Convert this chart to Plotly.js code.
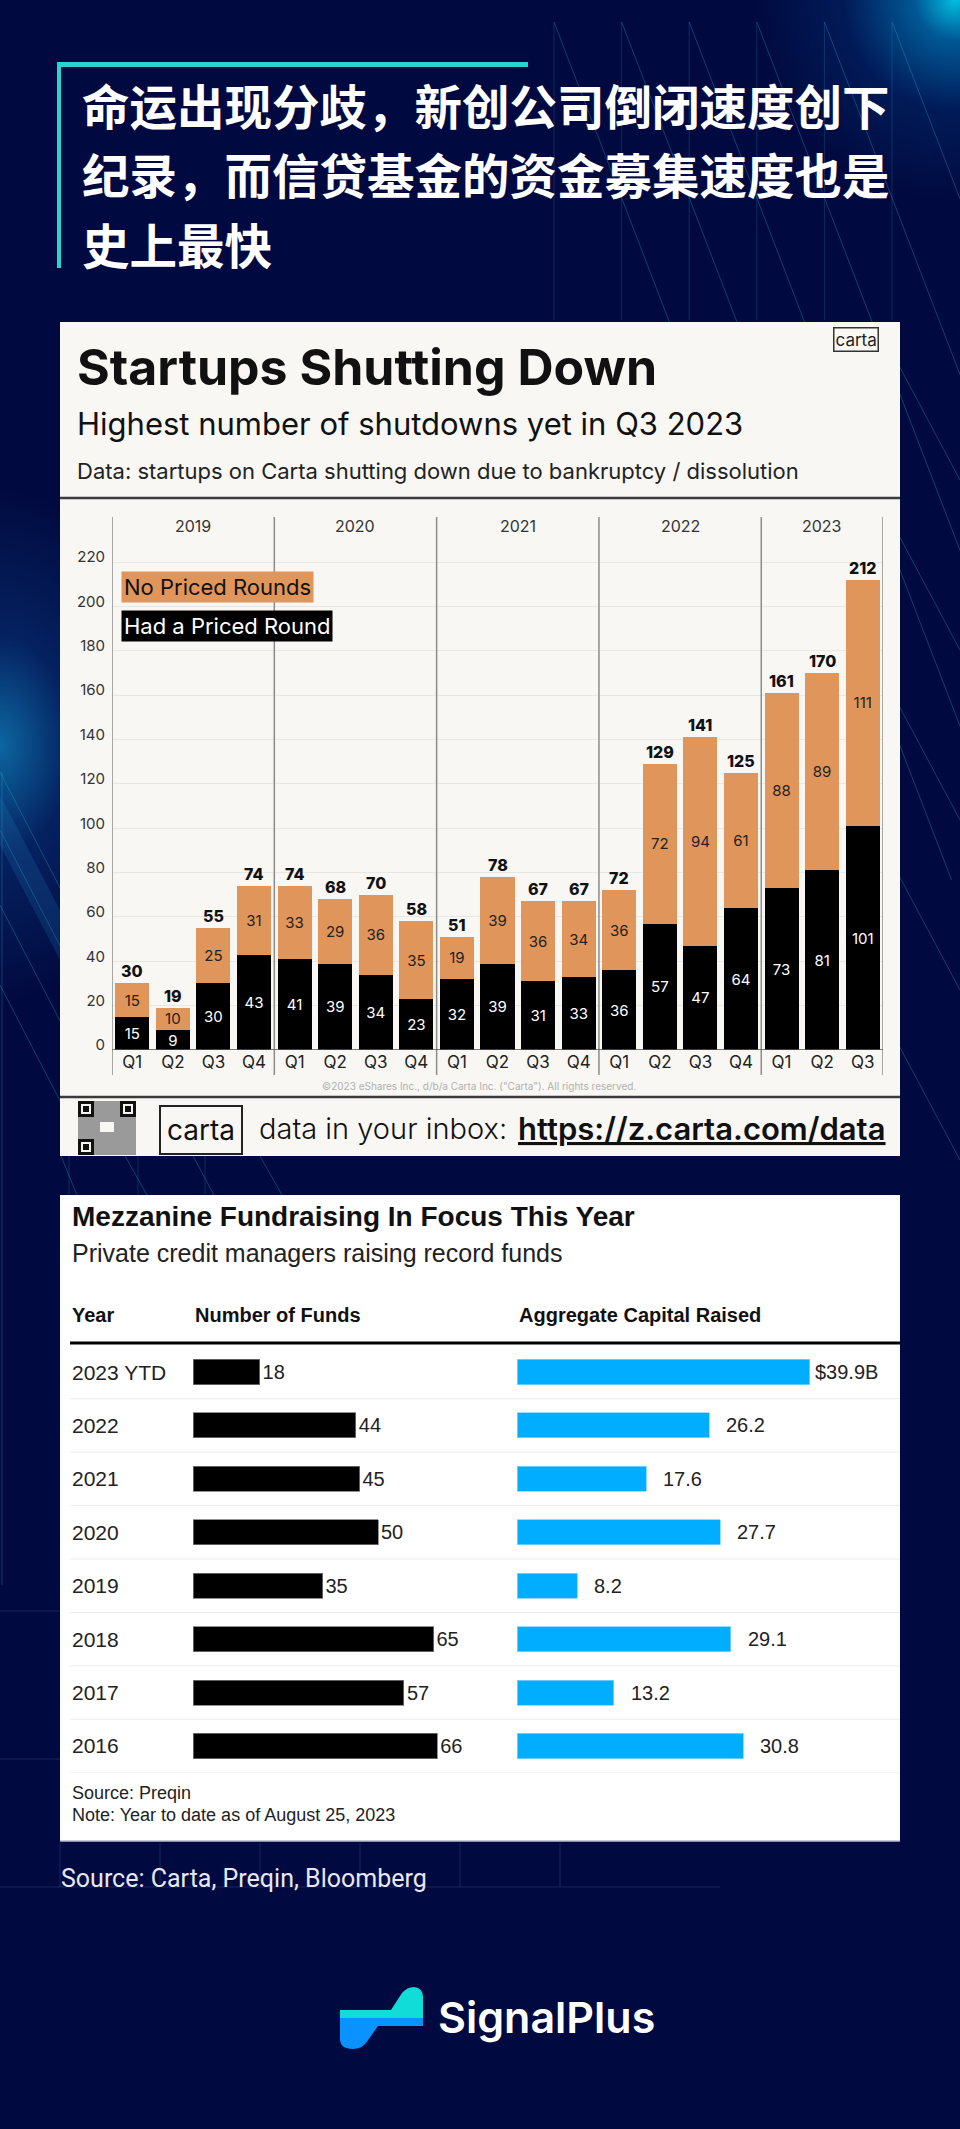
<!DOCTYPE html>
<html>
<head>
<meta charset="utf-8">
<script src="https://cdn.plot.ly/plotly-3.0.1.min.js"></script>
<style>
html,body{margin:0;padding:0;}
body{width:960px;height:2129px;overflow:hidden;
background:
 radial-gradient(circle at 955px 0px, rgba(0,200,235,0.95) 0px, rgba(0,140,205,0.6) 40px, rgba(0,70,150,0.28) 110px, rgba(1,10,64,0) 200px),
 radial-gradient(ellipse 110px 170px at 0px 745px, rgba(15,125,185,0.8) 0px, rgba(10,70,145,0.4) 70px, rgba(1,10,64,0) 165px),
 #010a40;}
#chart{width:960px;height:2129px;}
</style>
</head>
<body>
<div id="chart"></div>
<script>
// ---------------- DATA ----------------
const periods = ['2019 Q1','2019 Q2','2019 Q3','2019 Q4','2020 Q1','2020 Q2','2020 Q3','2020 Q4',
                 '2021 Q1','2021 Q2','2021 Q3','2021 Q4','2022 Q1','2022 Q2','2022 Q3','2022 Q4',
                 '2023 Q1','2023 Q2','2023 Q3'];
const hadPricedRound = [15,9,30,43,41,39,34,23,32,39,31,33,36,57,47,64,73,81,101];
const noPricedRounds = [15,10,25,31,33,29,36,35,19,39,36,34,36,72,94,61,88,89,111];
const totals = [30,19,55,74,74,68,70,58,51,78,67,67,72,129,141,125,161,170,212];
const years = ['2019','2020','2021','2022','2023'];
const yTicks = [0,20,40,60,80,100,120,140,160,180,200,220];

const fundYears = ['2023 YTD','2022','2021','2020','2019','2018','2017','2016'];
const numberOfFunds = [18,44,45,50,35,65,57,66];
const capitalRaised = [39.9,26.2,17.6,27.7,8.2,29.1,13.2,30.8];
const capitalLabels = ['$39.9B','26.2','17.6','27.7','8.2','29.1','13.2','30.8'];

// ---------------- HELPERS ----------------
const W = 960, H = 2129;
const px = x => x / W;
const py = y => 1 - y / H;
const quarterLabels = periods.map(p => p.split(' ')[1]);
const CARTA = 'Inter, Lato, sans-serif';
const BBG = '"Liberation Sans", Arial, sans-serif';
const CJK = '"Noto Sans CJK SC", sans-serif';

function txt(text, x, y, font, opts) {
  return Object.assign({text: text, xref:'paper', yref:'paper', x: px(x), y: py(y),
    showarrow:false, xanchor:'left', yanchor:'middle', font: font}, opts || {});
}
function rect(x0,y0,x1,y1,fill,opts){
  return Object.assign({type:'rect', xref:'paper', yref:'paper', x0:px(x0), x1:px(x1), y0:py(y0), y1:py(y1),
    fillcolor: fill, line:{width:0}, layer:'below'}, opts||{});
}
function line(x0,y0,x1,y1,color,width,opts){
  return Object.assign({type:'line', xref:'paper', yref:'paper', x0:px(x0), x1:px(x1), y0:py(y0), y1:py(y1),
    line:{color:color, width:width}, layer:'below'}, opts||{});
}
function pathPx(cmds){
  return cmds.map(c => c[0] + (c.length>1 ? ' ' + c.slice(1).map((v,i)=> i%2===0 ? px(v).toFixed(5) : py(v).toFixed(5)).join(' ') : '')).join(' ');
}

// ---------------- TRACES ----------------
const traces = [
  {type:'bar', name:'Had a Priced Round', x: periods, y: hadPricedRound, xaxis:'x', yaxis:'y',
   marker:{color:'#000000'}, text: hadPricedRound.map(String), textposition:'inside', insidetextanchor:'middle',
   constraintext:'none', textangle:0, insidetextfont:{family:CARTA, size:15, color:'#ffffff'}, hoverinfo:'skip'},
  {type:'bar', name:'No Priced Rounds', x: periods, y: noPricedRounds, xaxis:'x', yaxis:'y',
   marker:{color:'#e0955a'}, text: noPricedRounds.map(String), textposition:'inside', insidetextanchor:'middle',
   constraintext:'none', textangle:0, insidetextfont:{family:CARTA, size:15, color:'#222222'}, hoverinfo:'skip'},
  {type:'bar', orientation:'h', name:'Number of Funds', y: fundYears, x: numberOfFunds, xaxis:'x2', yaxis:'y2',
   width:0.47, marker:{color:'#000000', line:{color:'#777', width:0.8}}, text: numberOfFunds.map(String), textposition:'outside',
   constraintext:'none', cliponaxis:false, textfont:{family:BBG, size:20, color:'#222'}, hoverinfo:'skip'},
  {type:'bar', orientation:'h', name:'Aggregate Capital Raised', y: fundYears, x: capitalRaised, xaxis:'x3', yaxis:'y3',
   width:0.47, marker:{color:'#00adfe', line:{color:'#7fd3ff', width:0.8}}, hoverinfo:'skip'}
];

// ---------------- SHAPES ----------------
const shapes = [];
const deco = 'rgba(40,175,205,0.33)';
for (let k=0;k<6;k++){
  const x0 = 554 + 67.6*k;
  shapes.push(line(x0,22,x0,320,'rgba(40,175,205,0.22)',1));
  const x1 = Math.min(x0+330, 1100);
  shapes.push(line(x0,22,x1,22+(x1-x0)*2.6,deco,1));
}
for (let k=0;k<5;k++){
  const y0 = 330 + 170*k;
  shapes.push(line(880,y0,960,y0+150,deco,1));
}
shapes.push(line(2,772,2,1585,'rgba(40,175,205,0.3)',1));
[772,830,905,985].forEach(y0 => shapes.push(line(0,y0,70,y0+135,deco,1)));
shapes.push({type:'path', xref:'paper', yref:'paper', layer:'below', line:{width:0}, fillcolor:'rgba(40,140,200,0.18)',
  path: pathPx([['M',0,795],['L',60,910],['L',60,960],['L',0,845],['Z']])});
[[61,1156,77,1195],[125,1156,147,1195],[193,1156,214,1195],[260,1156,282,1195]].forEach(a=>shapes.push(line(a[0],a[1],a[2],a[3],deco,1)));
[69,138,205].forEach(x=>shapes.push(line(x,1156,x,1195,'rgba(40,175,205,0.22)',1)));
[60,160,260,360,460,560].forEach(x=>shapes.push(line(x,1843,x,1887,'rgba(70,90,150,0.35)',1)));
shapes.push(line(0,1887,720,1887,'rgba(70,90,150,0.35)',1));
shapes.push(line(0,1611,60,1611,'rgba(70,90,150,0.35)',1));
shapes.push(line(0,1759,60,1759,'rgba(70,90,150,0.35)',1));

// header accent
shapes.push(rect(57,62,528,67,'#2ad3d0',{layer:'above'}));
shapes.push(rect(57,62,61,268,'#2ad3d0',{layer:'above'}));

// panels
shapes.push(rect(60,322,900,1156,'#f8f7f3'));
shapes.push(rect(60,1195,900,1841,'#ffffff'));
shapes.push(line(60,1841,900,1841,'#b9bccb',1.5));
shapes.push(line(60,498,900,498,'#3a3a3a',2.5));
shapes.push(line(60,1097,900,1097,'#3a3a3a',2.5));

// Carta year dividers
const counts = years.map(yr => periods.filter(p => p.startsWith(yr)).length);
let cum = -0.5;
const bounds = [cum];
counts.forEach(c => { cum += c; bounds.push(cum); });
bounds.forEach(b => shapes.push({type:'line', xref:'x', yref:'paper', x0:b, x1:b, y0:py(1075), y1:py(517),
  line:{color:'#8c8c8c', width:1.5}, layer:'above'}));
shapes.push({type:'line', xref:'paper', yref:'y', x0:px(112), x1:px(883), y0:0, y1:0, line:{color:'#555', width:1.5}, layer:'above'});

// QR code stand-in
shapes.push(rect(78,1101,136,1155,'#9a9a9a'));
[[78,1101],[120,1101],[78,1139]].forEach(p=>{
  shapes.push(rect(p[0],p[1],p[0]+16,p[1]+16,'#111'));
  shapes.push(rect(p[0]+3,p[1]+3,p[0]+13,p[1]+13,'#f8f7f3'));
  shapes.push(rect(p[0]+5,p[1]+5,p[0]+11,p[1]+11,'#111'));
});
shapes.push(rect(100,1122,114,1132,'#f8f7f3'));

// Bloomberg table lines
shapes.push(line(70,1343,900,1343,'#000',3));
fundYears.forEach((f,i)=> shapes.push({type:'line', xref:'paper', yref:'y2', x0:px(70), x1:px(900), y0:i+0.5, y1:i+0.5,
  line:{color:'#ececec', width:1}, layer:'below'}));

// SignalPlus logo
shapes.push({type:'path', xref:'paper', yref:'paper', layer:'above', line:{width:0}, fillcolor:'#12dcd8',
  path: pathPx([['M',340,2010],['L',391,2010],['L',402,1993],['Q',407,1987,414,1987],['Q',423,1988,423,1997],['L',423,2018],['L',340,2018],['Z']])});
shapes.push({type:'path', xref:'paper', yref:'paper', layer:'above', line:{width:0}, fillcolor:'#0a92ff',
  path: pathPx([['M',340,2018],['L',423,2018],['L',423,2026],['L',378,2026],['L',366,2043],['Q',361,2049,353,2049],['Q',340,2049,340,2039],['Z']])});

// ---------------- ANNOTATIONS ----------------
const annotations = [];
const cjkFont = {family:CJK, size:47.5, color:'#ffffff', weight:700};
annotations.push(txt('命运出现分歧，新创公司倒闭速度创下', 80, 105, cjkFont));
annotations.push(txt('纪录，而信贷基金的资金募集速度也是', 80, 174, cjkFont));
annotations.push(txt('史上最快', 80, 244, cjkFont));

annotations.push(txt('Startups Shutting Down', 75, 367, {family:CARTA, size:50, color:'#111', weight:700}));
annotations.push(txt('Highest number of shutdowns yet in Q3 2023', 75, 424, {family:CARTA, size:31, color:'#111', weight:400}));
annotations.push(txt('Data: startups on Carta shutting down due to bankruptcy / dissolution', 75, 471, {family:CARTA, size:22, color:'#222', weight:400}));
annotations.push(txt('carta', 855.5, 339.5, {family:CARTA, size:17, color:'#222'}, {xanchor:'center', bordercolor:'#333', borderwidth:1.5, borderpad:1}));

annotations.push(txt('No Priced Rounds', 121, 586.5, {family:CARTA, size:22, color:'#111'}, {bgcolor:'#e0955a', borderpad:2}));
annotations.push(txt('Had a Priced Round', 121, 625.5, {family:CARTA, size:22, color:'#fff'}, {bgcolor:'#000', borderpad:2}));

years.forEach((yr,i)=> annotations.push({text:yr, xref:'x', yref:'paper', x:(bounds[i]+bounds[i+1])/2, y:py(526),
  showarrow:false, xanchor:'center', yanchor:'middle', font:{family:CARTA, size:16, color:'#333'}}));
periods.forEach((p,i)=> annotations.push({text:String(totals[i]), xref:'x', yref:'y', x:i, y:totals[i],
  showarrow:false, xanchor:'center', yanchor:'bottom', font:{family:CARTA, size:16, color:'#111', weight:800}}));

annotations.push(txt('©2023 eShares Inc., d/b/a Carta Inc. ("Carta"). All rights reserved.', 479, 1086, {family:CARTA, size:10, color:'#b0b0b0'}, {xanchor:'center'}));
annotations.push(txt('carta', 200.5, 1130, {family:CARTA, size:28, color:'#111'}, {xanchor:'center', bordercolor:'#222', borderwidth:2, borderpad:6}));
annotations.push(txt('data in your inbox:', 257, 1128, {family:CARTA, size:29, color:'#111', weight:300}));
annotations.push(txt('https://z.carta.com/data', 516, 1128, {family:CARTA, size:31, color:'#111', weight:600, lineposition:'under'}));

annotations.push(txt('Mezzanine Fundraising In Focus This Year', 70, 1216, {family:BBG, size:28, color:'#111', weight:700}));
annotations.push(txt('Private credit managers raising record funds', 70, 1253, {family:BBG, size:25, color:'#222'}));
annotations.push(txt('Year', 70, 1315, {family:BBG, size:20, color:'#111', weight:700}));
annotations.push(txt('Number of Funds', 193, 1315, {family:BBG, size:20, color:'#111', weight:700}));
annotations.push(txt('Aggregate Capital Raised', 517, 1315, {family:BBG, size:20, color:'#111', weight:700}));
fundYears.forEach((f,i)=> annotations.push({text:f, xref:'paper', yref:'y2', x:px(70), y:i, showarrow:false,
  xanchor:'left', yanchor:'middle', font:{family:BBG, size:21, color:'#222'}}));
capitalRaised.forEach((v,i)=> annotations.push({text:capitalLabels[i], xref:'x3', yref:'y3', x:v, y:i,
  showarrow:false, xanchor:'left', yanchor:'middle', xshift: capitalLabels[i].startsWith('$') ? 3 : 15,
  font:{family:BBG, size:20, color:'#222'}}));
annotations.push(txt('Source: Preqin', 70, 1793, {family:BBG, size:18, color:'#222'}));
annotations.push(txt('Note: Year to date as of August 25, 2023', 70, 1815, {family:BBG, size:18, color:'#222'}));

annotations.push(txt('Source: Carta, Preqin, Bloomberg', 59, 1878, {family:'"Liberation Sans Narrow", Roboto, sans-serif', size:25, color:'#e6e8f2'}));
annotations.push(txt('SignalPlus', 436, 2017, {family:'Inter, sans-serif', size:43, color:'#ffffff', weight:600}));

// ---------------- LAYOUT ----------------
const layout = {
  width: W, height: H,
  margin: {l:0, r:0, t:0, b:0, pad:0},
  paper_bgcolor: 'rgba(0,0,0,0)', plot_bgcolor: 'rgba(0,0,0,0)',
  showlegend: false, barmode: 'stack', bargap: 0.16,
  font: {family: CARTA},
  xaxis: {domain:[px(112), px(883)], range:[-0.5, 18.5], type:'category', anchor:'y',
          tickmode:'array', tickvals: periods, ticktext: quarterLabels, ticks:'', showgrid:false, zeroline:false, showline:false,
          tickfont:{family:CARTA, size:17, color:'#222'}, fixedrange:true},
  yaxis: {domain:[py(1050), py(540)], range:[0,230], anchor:'x', tickmode:'array', tickvals: yTicks,
          ticks:'', showgrid:true, gridcolor:'#e8e7e2', gridwidth:1, zeroline:false, showline:false,
          tickfont:{family:CARTA, size:15, color:'#333'}, ticklabelstandoff:6, ticklabelshift:-5, fixedrange:true},
  xaxis2: {domain:[px(193), px(489)], range:[0,80], anchor:'y2', visible:false, fixedrange:true},
  yaxis2: {domain:[py(1772.7), py(1345.3)], range:[7.5,-0.5], type:'category', anchor:'x2', visible:false, fixedrange:true},
  xaxis3: {domain:[px(517), px(884)], range:[0,50], anchor:'y3', visible:false, fixedrange:true},
  yaxis3: {domain:[py(1772.7), py(1345.3)], range:[7.5,-0.5], type:'category', anchor:'x3', visible:false, fixedrange:true},
  shapes: shapes,
  annotations: annotations
};

Plotly.newPlot('chart', traces, layout, {staticPlot:true, displayModeBar:false});
</script>
</body>
</html>
